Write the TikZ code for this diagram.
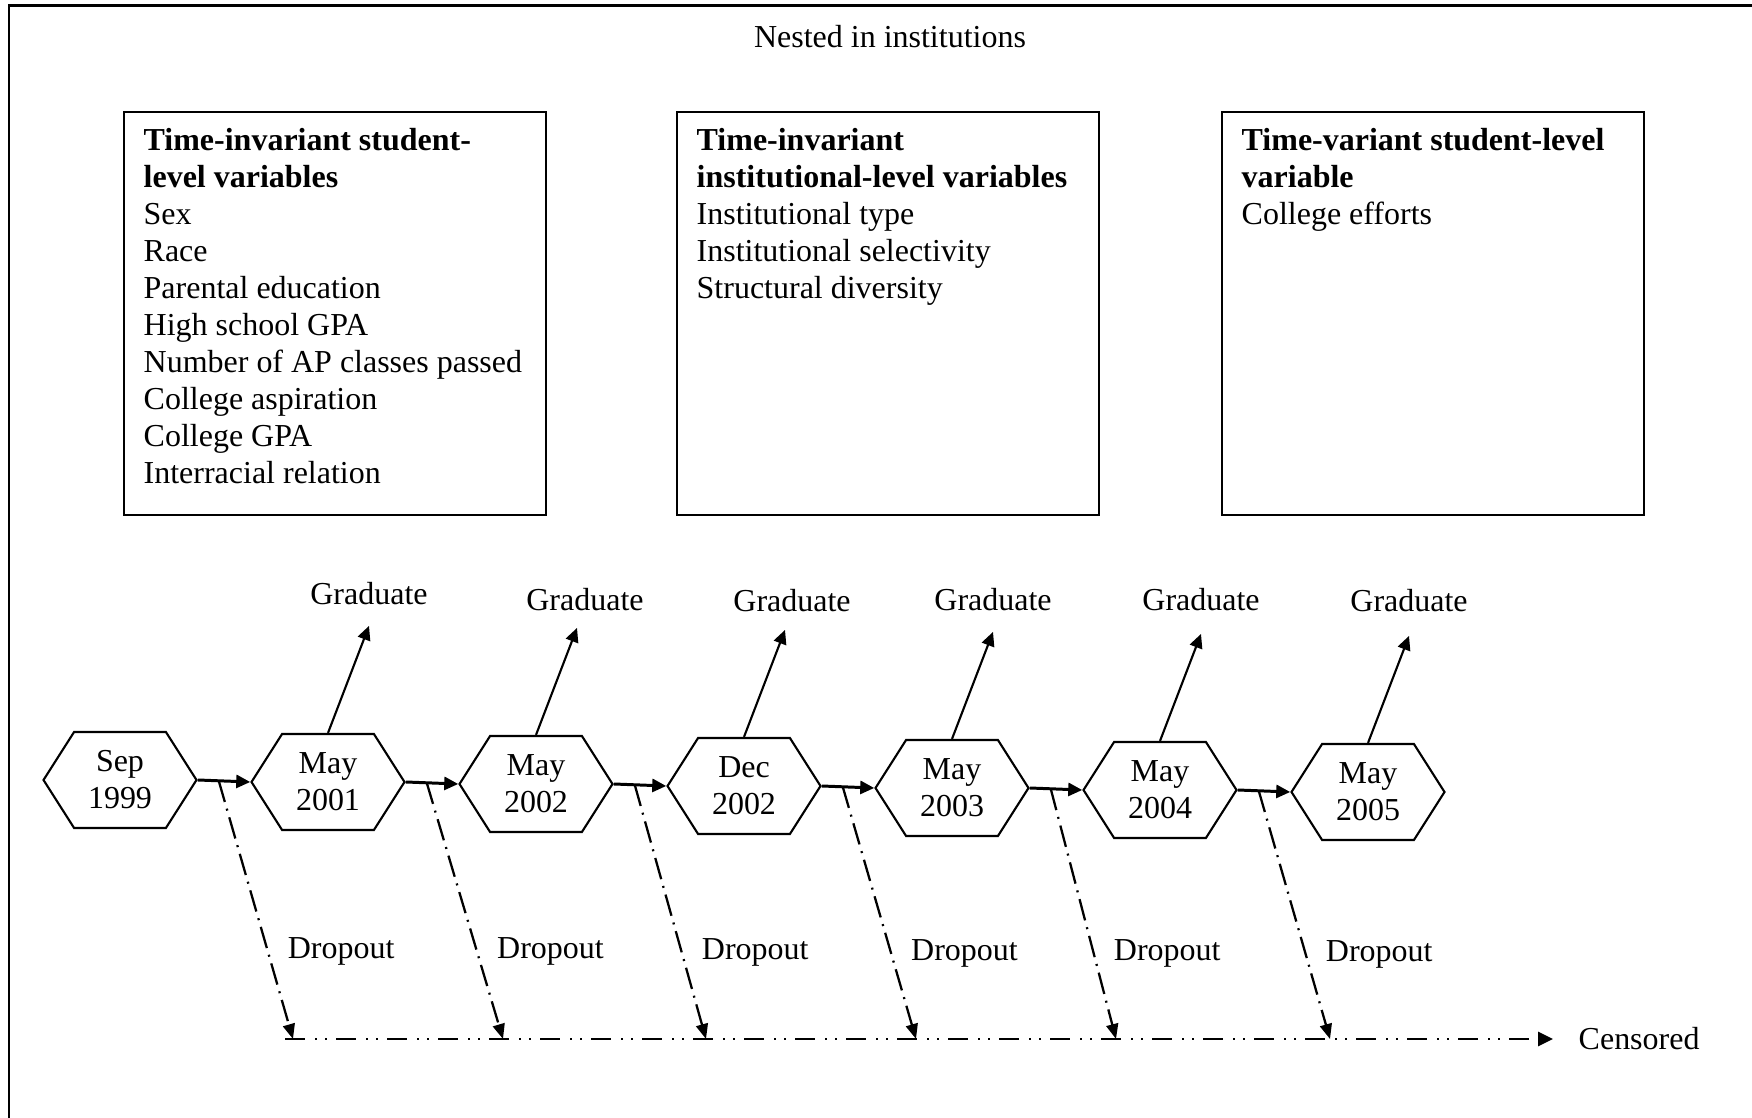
\documentclass[tikz,border=0pt]{standalone}
\usepackage{fontspec}
\setmainfont{Liberation Serif}
\usepackage{tikz}
\usetikzlibrary{positioning}
\usetikzlibrary{shapes.symbols,arrows.meta,calc}
\tikzstyle{hexa} = [signal, signal to=west and east, signal pointer angle=115, minimum width=1.53cm, minimum height=0.96cm, inner sep=0pt, align=center, draw=black, line width=0.6pt]
\tikzstyle{varbox} = [rectangle, minimum width=4.22cm, minimum height=4.03cm, anchor=north west, draw=black, line width=0.6pt]
\tikzstyle{vartext} = [align=left, inner sep=0pt]
\tikzstyle{arrow} = [line width=0.85pt,-{Triangle[length=0.14cm,width=0.13cm]}]
\tikzstyle{gradarrow} = [line width=0.6pt,-{Triangle[length=0.14cm,width=0.13cm]}]
\tikzstyle{droparrow} = [line width=0.65pt, dash pattern=on 0.22cm off 0.07cm on 0.02cm off 0.07cm,-{Triangle[length=0.15cm,width=0.12cm]}]
\tikzstyle{censarrow} = [line width=0.85pt, dash pattern=on 0.20cm off 0.10cm on 0.02cm off 0.08cm on 0.02cm off 0.09cm,-{Triangle[length=0.15cm,width=0.14cm]}]
\begin{document}
\begin{tikzpicture}[every node/.style={font=\fontsize{9.1}{10.5}\selectfont},node distance=2.08cm]
			\path[use as bounding box, clip] (0,0) rectangle (17.52,11.17);
			\draw[line width=0.85pt] (0.09,-1) rectangle (18.5,11.11);
			\node (nest) at (8.90,10.80) {Nested in institutions};
			% variable boxes
			\node (b1) [varbox] at (1.23,10.06) {};
			\node (b2) [varbox] at (6.76,10.06) {};
			\node (b3) [varbox] at (12.21,10.06) {};
			\node (t1) [vartext, below right=0.17cm and 0.2cm of b1.north west] {\textbf{Time-invariant student-}\\ \textbf{level variables}\\ Sex\\ Race\\ Parental education\\ High school GPA\\ Number of AP classes passed\\ College aspiration\\ College GPA\\ Interracial relation};
			\node (t2) [vartext, below right=0.17cm and 0.2cm of b2.north west] {\textbf{Time-invariant}\\ \textbf{institutional-level variables}\\ Institutional type\\ Institutional selectivity\\ Structural diversity};
			\node (t3) [vartext, below right=0.17cm and 0.2cm of b3.north west] {\textbf{Time-variant student-level}\\ \textbf{variable}\\ College efforts};
			% time points
			\node (h1) [hexa] at (1.20,3.37) {Sep\\1999};
			\node (h2) [hexa, right of=h1, yshift=-0.02cm] {May\\2001};
			\node (h3) [hexa, right of=h2, yshift=-0.02cm] {May\\2002};
			\node (h4) [hexa, right of=h3, yshift=-0.02cm] {Dec\\2002};
			\node (h5) [hexa, right of=h4, yshift=-0.02cm] {May\\2003};
			\node (h6) [hexa, right of=h5, yshift=-0.02cm] {May\\2004};
			\node (h7) [hexa, right of=h6, yshift=-0.02cm] {May\\2005};
			\draw [arrow] (h1.east)--(h2.west);
			\draw [arrow] (h2.east)--(h3.west);
			\draw [arrow] (h3.east)--(h4.west);
			\draw [arrow] (h4.east)--(h5.west);
			\draw [arrow] (h5.east)--(h6.west);
			\draw [arrow] (h6.east)--(h7.west);
			% graduate
			\coordinate (g2) at ($(h2.north)+(0.41,1.07)$);
			\coordinate (g3) at ($(h3.north)+(0.41,1.07)$);
			\coordinate (g4) at ($(h4.north)+(0.41,1.07)$);
			\coordinate (g5) at ($(h5.north)+(0.41,1.07)$);
			\coordinate (g6) at ($(h6.north)+(0.41,1.07)$);
			\coordinate (g7) at ($(h7.north)+(0.41,1.07)$);
			\node (grad2) [above=0.2cm of g2, inner sep=0pt] {Graduate};
			\node (grad3) [above=0.166cm of g3, inner sep=0pt, xshift=0.08cm] {Graduate};
			\node (grad4) [above=0.178cm of g4, inner sep=0pt, xshift=0.07cm] {Graduate};
			\node (grad5) [above=0.2cm of g5, inner sep=0pt] {Graduate};
			\node (grad6) [above=0.222cm of g6, inner sep=0pt] {Graduate};
			\node (grad7) [above=0.234cm of g7, inner sep=0pt] {Graduate};
			\draw [gradarrow] (h2.north)--(g2);
			\draw [gradarrow] (h3.north)--(g3);
			\draw [gradarrow] (h4.north)--(g4);
			\draw [gradarrow] (h5.north)--(g5);
			\draw [gradarrow] (h6.north)--(g6);
			\draw [gradarrow] (h7.north)--(g7);
			% dropout and censored
			\coordinate (s1) at ($(h1.east)!0.4!(h2.west)$);
			\coordinate (s2) at ($(h2.east)!0.4!(h3.west)$);
			\coordinate (s3) at ($(h3.east)!0.4!(h4.west)$);
			\coordinate (s4) at ($(h4.east)!0.4!(h5.west)$);
			\coordinate (s5) at ($(h5.east)!0.4!(h6.west)$);
			\coordinate (s6) at ($(h6.east)!0.4!(h7.west)$);
			\coordinate (e1) at (2.93,0.78);
			\coordinate (e2) at (5.03,0.78);
			\coordinate (e3) at (7.06,0.78);
			\coordinate (e4) at (9.16,0.78);
			\coordinate (e5) at (11.16,0.78);
			\coordinate (e6) at (13.30,0.78);
			\draw [droparrow] (s1)--node (drop1) [right=0.19cm, pos=0.66, inner sep=0pt]{Dropout}(e1);
			\draw [droparrow] (s2)--node (drop2) [right=0.19cm, pos=0.66, inner sep=0pt]{Dropout}(e2);
			\draw [droparrow] (s3)--node (drop3) [right=0.19cm, pos=0.66, inner sep=0pt]{Dropout}(e3);
			\draw [droparrow] (s4)--node (drop4) [right=0.19cm, pos=0.66, inner sep=0pt]{Dropout}(e4);
			\draw [droparrow] (s5)--node (drop5) [right=0.19cm, pos=0.66, inner sep=0pt]{Dropout}(e5);
			\draw [droparrow] (s6)--node (drop6) [right=0.19cm, pos=0.66, inner sep=0pt]{Dropout}(e6);
			\coordinate (c0) at (2.85,0.78);
			\node (cens) [anchor=west, inner sep=0pt] at (15.78,0.78) {Censored};
			\draw [censarrow, shorten >=0.25cm] (c0)--(cens.west);
		\end{tikzpicture}
\end{document}
